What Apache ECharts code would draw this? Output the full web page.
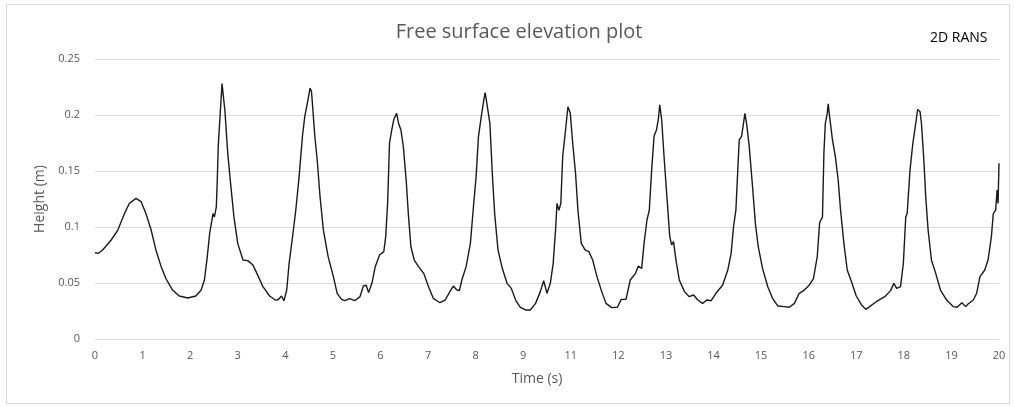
<!DOCTYPE html>
<html>
<head>
<meta charset="utf-8">
<script src="https://cdn.jsdelivr.net/npm/echarts@6/dist/echarts.min.js"></script>
<style>
html, body { margin: 0; padding: 0; background: #fff; }
#chart { position: absolute; left: 0; top: 0; width: 1014px; height: 407px; }
#frame { position: absolute; left: 6px; top: 4px; width: 1002px; height: 398px; border: 1px solid #d9d9d9; pointer-events: none; }
</style>
</head>
<body>
<div id="chart"></div>
<div id="frame"></div>
<script>
// x tick labels (the source chart skips "10")
const xTickLabels = ['0', '1', '2', '3', '4', '5', '6', '7', '8', '9', '11', '12', '13', '14', '15', '16', '17', '18', '19', '20']

// position along the axis (tick index units) and free surface height (m)
const timePos = [
    0, 0.07, 0.16, 0.34, 0.48, 0.62, 0.72, 0.86, 0.97, 1.07, 1.18, 1.28, 1.39, 1.49, 1.63, 1.77, 1.95,
    2.12, 2.23, 2.30, 2.36, 2.41, 2.48, 2.51, 2.55, 2.57, 2.59, 2.64, 2.67, 2.70, 2.73, 2.76, 2.79, 2.85, 2.92,
    3.00, 3.11, 3.21, 3.32, 3.42, 3.53, 3.67, 3.79, 3.85, 3.92, 3.97,
    4.03, 4.08, 4.17, 4.22, 4.29, 4.36, 4.41, 4.47, 4.52, 4.55, 4.57, 4.62, 4.67, 4.73, 4.80, 4.90,
    5.01, 5.09, 5.18, 5.25, 5.35, 5.46, 5.57, 5.64, 5.70, 5.75, 5.82, 5.89, 5.98,
    6.07, 6.11, 6.15, 6.19, 6.23, 6.28, 6.34, 6.38, 6.43, 6.48, 6.54, 6.59, 6.64, 6.71, 6.80, 6.91,
    7.01, 7.11, 7.25, 7.36, 7.46, 7.53, 7.60, 7.66, 7.71, 7.80, 7.89, 7.96,
    8.01, 8.06, 8.12, 8.17, 8.20, 8.23, 8.26, 8.30, 8.35, 8.40, 8.47, 8.56, 8.66, 8.75, 8.84, 8.94,
    9.05, 9.15, 9.26, 9.36, 9.43, 9.50, 9.57, 9.63, 9.68, 9.71, 9.75, 9.79, 9.83, 9.89, 9.94, 9.96, 9.99,
    10.04, 10.10, 10.15, 10.22, 10.30, 10.38, 10.46, 10.55, 10.65, 10.74, 10.86, 10.98,
    11.06, 11.16, 11.25, 11.36, 11.42, 11.49, 11.54, 11.60, 11.65, 11.70, 11.75, 11.80, 11.84, 11.87, 11.91, 11.96,
    12.02, 12.08, 12.12, 12.16, 12.21, 12.28, 12.39, 12.49, 12.58, 12.67, 12.77, 12.86, 12.95,
    13.05, 13.19, 13.30, 13.37, 13.42, 13.47, 13.51, 13.54, 13.59, 13.63, 13.66, 13.70, 13.75, 13.82, 13.88, 13.94,
    14.03, 14.14, 14.24, 14.35, 14.49, 14.59, 14.70, 14.80, 14.91,
    15.01, 15.10, 15.18, 15.23, 15.29, 15.32, 15.35, 15.39, 15.41, 15.44, 15.50, 15.56, 15.62, 15.67, 15.74, 15.81, 15.90,
    16.00, 16.11, 16.20, 16.28, 16.42, 16.60, 16.72, 16.79, 16.85, 16.93, 16.99,
    17.04, 17.07, 17.13, 17.19, 17.23, 17.29, 17.34, 17.37, 17.42, 17.46, 17.51, 17.58, 17.67, 17.77, 17.90,
    18.04, 18.12, 18.22, 18.30, 18.35, 18.46, 18.53, 18.60, 18.70, 18.77, 18.84, 18.88, 18.93, 18.96, 18.98,
    19.00
]
const heightVals = [
    0.077, 0.0765, 0.0795, 0.0884, 0.0973, 0.112, 0.121, 0.1256, 0.1226, 0.112, 0.0973, 0.0795, 0.0646, 0.054, 0.0437, 0.0384, 0.0366,
    0.0384, 0.0437, 0.0527, 0.0735, 0.0943, 0.112, 0.109, 0.118, 0.142, 0.172, 0.207, 0.228, 0.227, 0.204, 0.203, 0.166, 0.139, 0.109,
    0.0854, 0.0705, 0.070, 0.066, 0.057, 0.0467, 0.0384, 0.0348, 0.035, 0.0384, 0.0342,
    0.0437, 0.0676, 0.0973, 0.115, 0.145, 0.181, 0.199, 0.212, 0.224, 0.221, 0.210, 0.181, 0.160, 0.127, 0.0973, 0.0735,
    0.0557, 0.0408, 0.0354, 0.0342, 0.036, 0.0342, 0.0378, 0.0473, 0.048, 0.0414, 0.0497, 0.0646, 0.075,
    0.078, 0.0914, 0.121, 0.175, 0.185, 0.196, 0.2015, 0.1926, 0.1866, 0.172, 0.142, 0.109, 0.0824, 0.0705, 0.0646, 0.0586,
    0.0467, 0.0363, 0.0324, 0.0348, 0.0423, 0.0473, 0.044, 0.0432, 0.0527, 0.0646, 0.0854, 0.121,
    0.145, 0.181, 0.199, 0.213, 0.220, 0.212, 0.213, 0.1926, 0.148, 0.112, 0.0795, 0.0631, 0.0497, 0.0452, 0.0348, 0.0283,
    0.0259, 0.0259, 0.0318, 0.0423, 0.052, 0.0408, 0.0497, 0.0676, 0.0973, 0.121, 0.115, 0.121, 0.163, 0.1866, 0.2074, 0.209, 0.2015,
    0.175, 0.148, 0.115, 0.0854, 0.0795, 0.078, 0.0705, 0.0557, 0.0423, 0.0318, 0.028, 0.0283,
    0.0354, 0.0354, 0.0527, 0.0586, 0.0652, 0.063, 0.0854, 0.106, 0.115, 0.151, 0.181, 0.1866, 0.196, 0.209, 0.196, 0.163,
    0.127, 0.0914, 0.084, 0.0869, 0.0705, 0.0527, 0.0423, 0.0378, 0.0393, 0.0348, 0.0318, 0.0348, 0.0342,
    0.0408, 0.048, 0.0616, 0.0765, 0.100, 0.115, 0.151, 0.1777, 0.181, 0.1926, 0.2015, 0.191, 0.172, 0.136, 0.103, 0.0824,
    0.0631, 0.0467, 0.0363, 0.0295, 0.0289, 0.0283, 0.0318, 0.0408, 0.0437,
    0.048, 0.054, 0.0735, 0.104, 0.109, 0.166, 0.1926, 0.2015, 0.210, 0.1985, 0.1777, 0.163, 0.142, 0.115, 0.0854, 0.0616, 0.0512,
    0.0384, 0.0304, 0.0265, 0.0289, 0.0333, 0.0378, 0.0432, 0.0497, 0.0452, 0.0467, 0.0676,
    0.109, 0.112, 0.151, 0.175, 0.1866, 0.205, 0.203, 0.1926, 0.160, 0.127, 0.0973, 0.0705, 0.0586, 0.0437, 0.0348,
    0.0289, 0.0283, 0.0324, 0.0289, 0.0313, 0.0348, 0.0408, 0.0557, 0.0616, 0.0705, 0.0914, 0.112, 0.115, 0.133, 0.121,
    0.157
]

const labelColor = '#595959'
const fontFam = "'Liberation Sans Narrow', 'Open Sans', 'Noto Sans', sans-serif"

let myChart = echarts.init(document.getElementById('chart'))
let option = {
    backgroundColor: '#fff',
    animation: false,
    title: [
        {
            text: 'Free surface elevation plot',
            left: 514,
            top: 17,
            textAlign: 'center',
            textStyle: { fontFamily: fontFam, fontSize: 20, fontWeight: 'normal', color: labelColor }
        },
        {
            text: '2D RANS',
            left: 925,
            top: 26,
            textStyle: { fontFamily: fontFam, fontSize: 14, fontWeight: 'normal', color: '#000' }
        }
    ],
    grid: {
        left: 95,
        right: 15,
        top: 59,
        bottom: 68
    },
    xAxis: {
        type: 'value',
        min: 0,
        max: 19,
        interval: 1,
        name: 'Time (s)',
        nameLocation: 'middle',
        nameGap: 33,
        nameTextStyle: { fontFamily: fontFam, fontSize: 14, color: labelColor, padding: [0, 20, 0, 0] },
        axisLine: { show: false },
        axisTick: { show: false },
        splitLine: { show: false },
        axisLabel: {
            margin: 11,
            fontFamily: fontFam,
            fontSize: 11,
            color: labelColor,
            formatter: function (value) {
                return xTickLabels[Math.round(value)]
            }
        }
    },
    yAxis: {
        type: 'value',
        min: 0,
        max: 0.25,
        interval: 0.05,
        name: 'Height (m)',
        nameLocation: 'middle',
        nameGap: 43,
        nameTextStyle: { fontFamily: fontFam, fontSize: 14, color: labelColor },
        axisLine: { show: false },
        axisTick: { show: false },
        splitLine: { show: true, lineStyle: { color: '#d9d9d9', width: 1 } },
        axisLabel: {
            margin: 15,
            fontFamily: fontFam,
            fontSize: 11,
            color: labelColor
        }
    },
    series: [
        {
            name: 'Height',
            type: 'line',
            data: timePos.map((t, i) => [t, heightVals[i]]),
            showSymbol: false,
            smooth: false,
            lineStyle: { width: 1.4, color: '#1a1a1a' }
        }
    ]
}
option && myChart.setOption(option)
</script>
</body>
</html>
